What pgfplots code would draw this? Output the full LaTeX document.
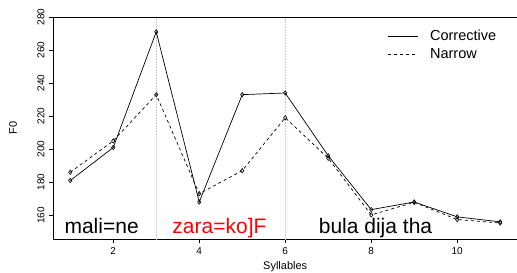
\documentclass[border=0pt]{standalone}
\usepackage{pgfplots}
\pgfplotsset{compat=1.18}
\usepackage{fontspec}
\setmainfont{Liberation Sans}
\begin{document}
\begin{tikzpicture}[x=1pt,y=1pt]
\useasboundingbox (-53,-33) rectangle (463.6,239);
\begin{axis}[
  at={(0,0)}, anchor=south west,
  scale only axis, width=464pt, height=222pt,
  xmin=0.6, xmax=11.4, ymin=145.5, ymax=280,
  xtick={2,4,6,8,10}, ytick={160,180,...,280},
  tick align=outside, tick pos=left,
  major tick length=4pt,
  axis line style={line width=0.8pt},
  every tick/.style={black, line width=0.6pt},
  /pgf/number format/assume math mode=true,
  ticklabel style={font=\fontsize{10}{10}\selectfont},
  xticklabel style={yshift=-1pt},
  yticklabel style={rotate=90, anchor=south, yshift=1pt},
  legend style={draw=none, fill=none, at={(axis cs:8.3,274.5)}, anchor=north west,
    font=\fontsize{14.5}{14.5}\selectfont, row sep=2pt, column sep=10pt},
  legend cell align=left,
  legend image code/.code={\draw[#1, mark=none] (0pt,0pt) -- (30pt,0pt);},
  clip=false,
]
\draw[gray!45, densely dotted, line width=0.6pt] (axis cs:3,145.5) -- (axis cs:3,280);
\draw[gray!45, densely dotted, line width=0.6pt] (axis cs:6,145.5) -- (axis cs:6,280);
\addplot[black, line width=0.7pt, mark=diamond, mark size=2.2pt, mark options={solid, line width=0.6pt}] coordinates {
(1,181) (2,201) (3,271) (4,168) (5,233) (6,234) (7,196) (8,163.4) (9,168) (10,159) (11,156)
};
\addlegendentry{Corrective}
\addplot[black, line width=0.7pt, dashed, mark=diamond, mark size=2.2pt, mark options={solid, line width=0.6pt}] coordinates {
(1,186) (2,205) (3,233) (4,173) (5,187) (6,219) (7,194.5) (8,160.2) (9,167.8) (10,157.4) (11,155.3)
};
\addlegendentry{Narrow}
\node[font=\fontsize{21}{21}\selectfont, anchor=base] at (axis cs:1.73,149) {mali=ne};
\node[font=\fontsize{21}{21}\selectfont, anchor=base, text=red] at (axis cs:4.47,149) {zara=ko]F};
\node[font=\fontsize{21}{21}\selectfont, anchor=base] at (axis cs:8.1,149) {bula dija tha};
\node[font=\fontsize{11}{11}\selectfont, anchor=south, inner sep=0pt] at ([yshift=-32.5pt]axis description cs:0.5,0) {Syllables};
\node[font=\fontsize{11}{11}\selectfont, rotate=90, anchor=center] at ([xshift=-40pt]axis description cs:0,0.5) {F0};
\end{axis}
\end{tikzpicture}
\end{document}
